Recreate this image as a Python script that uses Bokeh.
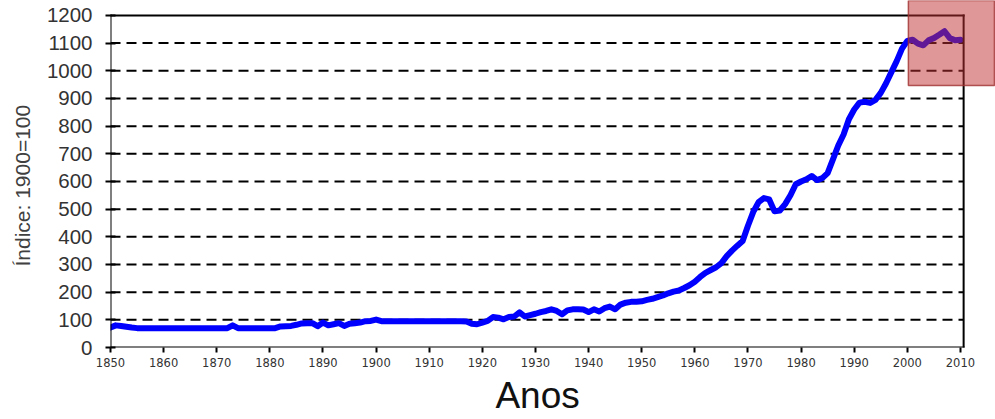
from bokeh.plotting import figure
from bokeh.models import Range1d, FixedTicker, BoxAnnotation, ColumnDataSource
from bokeh.embed import file_html
from bokeh.resources import INLINE

years = list(range(1850, 2011))
index_values = [
    72, 80, 78, 75, 72, 70, 70, 70, 70, 70,          # 1850-1859
    70, 70, 70, 70, 70, 70, 70, 70, 70, 70,          # 1860-1869
    70, 70, 70, 80, 70, 70, 70, 70, 70, 70,          # 1870-1879
    70, 70, 76, 77, 78, 82, 87, 88, 88, 77,          # 1880-1889
    90, 80, 84, 88, 78, 86, 88, 90, 95, 96,          # 1890-1899
    101, 95, 95, 95, 95, 95, 95, 95, 95, 95,         # 1900-1909
    95, 95, 95, 95, 95, 95, 95, 94, 86, 84,          # 1910-1919
    90, 96, 110, 108, 102, 110, 112, 127, 112, 117,  # 1920-1929
    122, 128, 132, 138, 132, 120, 134, 138, 138, 137,  # 1930-1939
    128, 138, 130, 142, 148, 138, 155, 162, 165, 165,  # 1940-1949
    167, 172, 176, 182, 188, 196, 202, 206, 215, 225,  # 1950-1959
    238, 255, 270, 280, 290, 305, 330, 350, 368, 385,  # 1960-1969
    440, 490, 525, 540, 535, 492, 495, 518, 550, 590,  # 1970-1979
    600, 608, 620, 605, 612, 630, 680, 730, 770, 825,  # 1980-1989
    860, 885, 888, 884, 895, 920, 955, 995, 1035, 1080,  # 1990-1999
    1108, 1112, 1098, 1092, 1110, 1118, 1130, 1143, 1118, 1110,  # 2000-2009
    1112,                                            # 2010
]
x_ticks = list(range(1850, 2011, 10))
y_ticks = list(range(0, 1201, 100))
x_label = "Anos"
y_label = "Índice: 1900=100"

# chart box (data units) and the highlight box that spills past it
x_min, x_max = 1850, 2010.6
y_min, y_max = 0, 1200
hl_left, hl_right, hl_bottom = 2000.2, 2016.4, 947

src = ColumnDataSource(data=dict(x=years, y=index_values))
grid_src = ColumnDataSource(data=dict(
    x0=[x_min] * (len(y_ticks) - 2), x1=[x_max] * (len(y_ticks) - 2), y=y_ticks[1:-1]))
frame_src = ColumnDataSource(data=dict(
    x0=[x_min, x_min, x_min, x_max], y0=[y_min, y_min, y_max, y_min],
    x1=[x_max, x_min, x_max, x_max], y1=[y_min, y_max, y_max, y_max]))

# frame enlarged to the canvas edge (top/right) so the highlight box is not clipped
p = figure(width=995, height=419, output_backend="svg", toolbar_location=None,
           x_range=Range1d(1850, 2016.6), y_range=Range1d(0, 1254),
           min_border_left=110, min_border_right=0, min_border_top=0,
           min_border_bottom=72)

p.segment(x0="x0", x1="x1", y0="y", y1="y", source=grid_src,
          line_color="black", line_width=2, line_dash="10 6")

p.line("x", "y", source=src, line_color="#0000ff", line_width=6,
       line_join="round", line_cap="round")

p.segment(x0="x0", y0="y0", x1="x1", y1="y1", source=frame_src,
          line_color="black", line_width=2, line_cap="square")

# axes
p.xaxis.ticker = FixedTicker(ticks=x_ticks)
p.yaxis.ticker = FixedTicker(ticks=y_ticks)
p.xaxis.minor_tick_line_color = None
p.yaxis.minor_tick_line_color = None
for ax in (p.xaxis, p.yaxis):
    ax.axis_line_color = None
    ax.major_tick_line_color = "black"
    ax.major_tick_line_width = 2
    ax.major_label_text_color = "#333333"
p.xaxis.major_tick_in = 0
p.xaxis.major_tick_out = 5
p.yaxis.major_tick_in = 5
p.yaxis.major_tick_out = 5
p.xaxis.major_label_text_font = "DejaVu Sans"
p.xaxis.major_label_text_font_size = "11.5px"
p.xaxis.major_label_standoff = 5
p.yaxis.major_label_text_font = "Liberation Sans"
p.yaxis.major_label_text_font_size = "20.5px"
p.yaxis.major_label_standoff = 13

# trailing no-break spaces re-centre the labels on the visible chart box
p.xaxis.axis_label = x_label + "\u00a0" * 3
p.xaxis.axis_label_text_font = "Liberation Sans"
p.xaxis.axis_label_text_font_style = "normal"
p.xaxis.axis_label_text_font_size = "37px"
p.xaxis.axis_label_text_color = "#111111"
p.xaxis.axis_label_standoff = 5

p.yaxis.axis_label = y_label + "\u00a0" * 4
p.yaxis.axis_label_text_font = "Liberation Sans"
p.yaxis.axis_label_text_font_style = "normal"
p.yaxis.axis_label_text_font_size = "21px"
p.yaxis.axis_label_text_color = "#404040"
p.yaxis.axis_label_standoff = 10

p.xgrid.grid_line_color = None
p.ygrid.grid_line_color = None
p.outline_line_color = None

p.background_fill_color = "white"
p.border_fill_color = "white"

box = BoxAnnotation(left=hl_left, right=hl_right, bottom=hl_bottom, top=None,
                    fill_color="#c03030", fill_alpha=0.5,
                    line_color="#a03030", line_alpha=0.8, line_width=1.5)
p.add_layout(box)

open("out.html", "w").write(file_html(p, INLINE))
